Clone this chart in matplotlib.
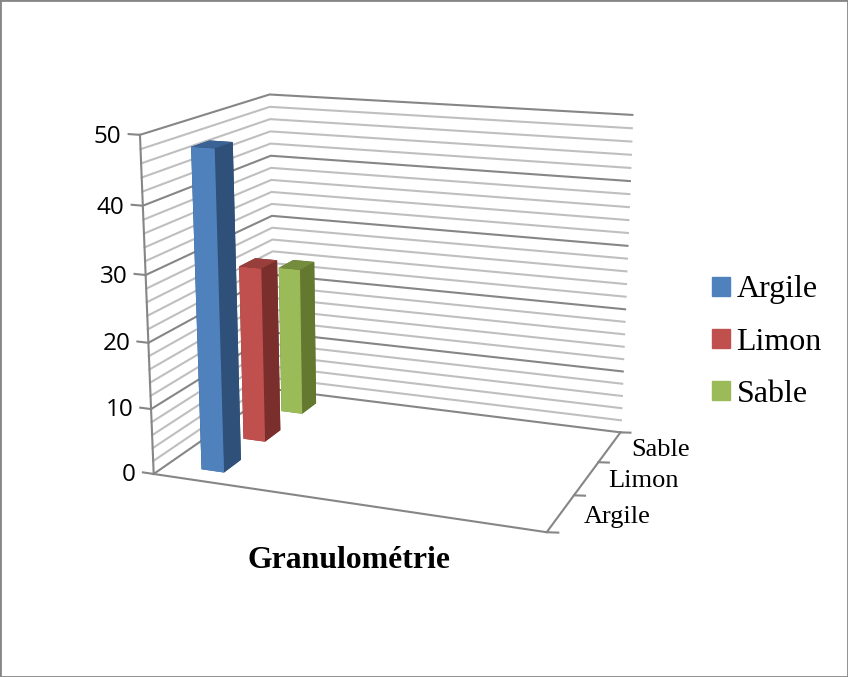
import matplotlib
matplotlib.use('Agg')
import matplotlib.pyplot as plt
from matplotlib.patches import Patch, Rectangle

series = ['Argile', 'Limon', 'Sable']
values = [48, 27.5, 24]
z_ticks = [0, 10, 20, 30, 40, 50]
z_minor = [2, 4, 6, 8, 12, 14, 16, 18, 22, 24, 26, 28, 32, 34, 36, 38, 42, 44, 46, 48]
front_cols = ['#4f81bd', '#c0504d', '#9bbb59']
side_cols = ['#2f5078', '#7a2f2d', '#64792f']
top_cols = ['#3a6292', '#983f3c', '#738c3e']

SERIF = 'Liberation Serif'
AXIS = '#868686'
LIGHT = '#bfbfbf'

W, H = 848, 677
fig = plt.figure(figsize=(W / 100, H / 100), dpi=100)
fig.add_artist(Rectangle((0, 0), 1, 1, transform=fig.transFigure, fill=False,
                         ec=AXIS, lw=2))

cx, cy = 386, 302
ax = fig.add_axes([(cx - H / 2) / W, (H - cy - H / 2) / H, H / W, 1],
                  projection='3d', computed_zorder=False)
ax.set_box_aspect((1.106, 0.78, 0.93), zoom=0.859)
ax.view_init(elev=15, azim=-69)
ax.set_proj_type('persp', focal_length=0.45)
ax.set_xlim(0, 1)
ax.set_ylim(0, 3)
ax.set_zlim(0, 50)
ax.set_axis_off()
ax.patch.set_alpha(0)

# walls
for z in z_minor:
    ax.plot([0, 0, 1], [0, 3, 3], [z, z, z], color=LIGHT, lw=1.5, zorder=2)
for z in z_ticks:
    ax.plot([0, 0, 1], [0, 3, 3], [z, z, z], color=AXIS, lw=1.5, zorder=2)
    ax.plot([-0.03, 0], [0, 0], [z, z], color=AXIS, lw=1.5, zorder=2)
    ax.text(-0.05, 0, z - 0.5, str(z), ha='right', va='center', fontsize=17.5,
            family='Open Sans', color='black')

# floor edges and depth axis
ax.plot([0, 0], [0, 0], [0, 50], color=AXIS, lw=1.5, zorder=2)
ax.plot([0, 1, 1], [0, 0, 3], [0, 0, 0], color=AXIS, lw=1.5, zorder=2)
for i in range(4):
    ax.plot([1, 1.025], [i, i + 0.03], [0, 0], color=AXIS, lw=1.5, zorder=2)
for i, name in enumerate(series):
    ax.text(1.055, i + 0.5, 0, name, ha='left', va='center', fontsize=19,
            family=SERIF, color='black')

# bars, back to front
for i in [2, 1, 0]:
    ax.bar3d(0.095, i + 0.3, 0, 0.062, 0.4, values[i], shade=False,
             color=[top_cols[i], top_cols[i], front_cols[i], side_cols[i],
                    side_cols[i], side_cols[i]], linewidth=0, zorder=5 + 2 - i)

fig.text(349 / W, 1 - 560 / H, 'Granulométrie', ha='center', va='center',
         fontsize=22.9, fontweight='bold', family=SERIF)

handles = [Patch(color=c, label=s) for c, s in zip(front_cols, series)]
fig.legend(handles=handles, loc='center left', bbox_to_anchor=(712 / W, 1 - 342 / H),
           frameon=False, prop={'family': SERIF, 'size': 23}, handlelength=0.55,
           handleheight=0.55, handletextpad=0.22, labelspacing=0.72, borderpad=0,
           borderaxespad=0)

fig.savefig('out.png', dpi=100)
